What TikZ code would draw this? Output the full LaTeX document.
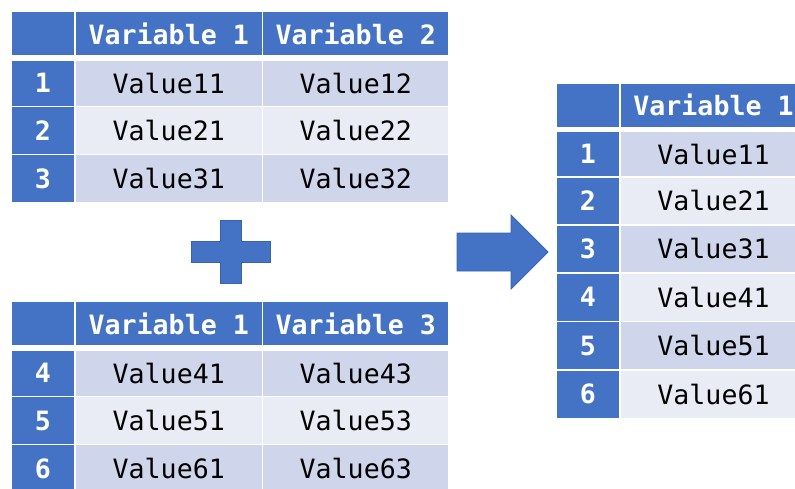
\documentclass[tikz,border=0pt]{standalone}
\usepackage{fontspec}
\setmonofont{DejaVu Sans Mono}
\definecolor{hdr}{HTML}{4472C4}
\definecolor{hdrline}{HTML}{3A63AE}
\definecolor{rowA}{HTML}{CFD5EA}
\definecolor{rowB}{HTML}{E9EBF5}
\tikzset{
  cell/.style={draw=white, line width=1.3pt, inner sep=0pt, text=black,
    font=\fontsize{26.6}{27}\selectfont\ttfamily},
  hcell/.style={cell, fill=hdr, text=white, font=\fontsize{26.6}{27}\selectfont\ttfamily\bfseries},
  acell/.style={cell, fill=rowA},
  bcell/.style={cell, fill=rowB},
  shapeblue/.style={fill=hdr, draw=hdrline, line width=0.8pt, line join=miter}
}
% \mkcell{style}{name}{x1}{y1}{x2}{y2}{text}
\newcommand{\mkcell}[7]{%
  \node[#1, minimum width={(#5)-(#3)}, minimum height={(#6)-(#4)}] (#2)
    at ({((#3)+(#5))/2},{((#4)+(#6))/2}) {#7};}
\begin{document}
\begin{tikzpicture}[x=1pt, y=-1pt]
\useasboundingbox (0,0) rectangle (795,488);
\clip (0,0) rectangle (795,488);
% ---------- Table 1 ----------
\mkcell{hcell}{aH0}{11}{11}{75}{56}{}
\mkcell{hcell}{aH1}{75}{11}{262.5}{56}{Variable 1}
\mkcell{hcell}{aH2}{262.5}{11}{449}{56}{Variable 2}
\mkcell{hcell}{aI1}{11}{60}{75}{106.5}{1}
\mkcell{acell}{aV11}{75}{60}{262.5}{106.5}{Value11}
\mkcell{acell}{aV12}{262.5}{60}{449}{106.5}{Value12}
\mkcell{hcell}{aI2}{11}{106.5}{75}{154.5}{2}
\mkcell{bcell}{aV21}{75}{106.5}{262.5}{154.5}{Value21}
\mkcell{bcell}{aV22}{262.5}{106.5}{449}{154.5}{Value22}
\mkcell{hcell}{aI3}{11}{154.5}{75}{203}{3}
\mkcell{acell}{aV31}{75}{154.5}{262.5}{203}{Value31}
\mkcell{acell}{aV32}{262.5}{154.5}{449}{203}{Value32}
% ---------- Table 2 ----------
\mkcell{hcell}{bH0}{11}{301}{75}{346}{}
\mkcell{hcell}{bH1}{75}{301}{262.5}{346}{Variable 1}
\mkcell{hcell}{bH2}{262.5}{301}{449}{346}{Variable 3}
\mkcell{hcell}{bI4}{11}{350}{75}{396.5}{4}
\mkcell{acell}{bV41}{75}{350}{262.5}{396.5}{Value41}
\mkcell{acell}{bV43}{262.5}{350}{449}{396.5}{Value43}
\mkcell{hcell}{bI5}{11}{396.5}{75}{444.5}{5}
\mkcell{bcell}{bV51}{75}{396.5}{262.5}{444.5}{Value51}
\mkcell{bcell}{bV53}{262.5}{396.5}{449}{444.5}{Value53}
\mkcell{hcell}{bI6}{11}{444.5}{75}{493}{6}
\mkcell{acell}{bV61}{75}{444.5}{262.5}{493}{Value61}
\mkcell{acell}{bV63}{262.5}{444.5}{449}{493}{Value63}
% ---------- Table 3 ----------
\mkcell{hcell}{cH0}{556}{83}{620}{127.5}{}
\mkcell{hcell}{cH1}{620}{83}{807}{127.5}{Variable 1}
\mkcell{hcell}{cI1}{556}{131.5}{620}{177}{1}
\mkcell{acell}{cV1}{620}{131.5}{807}{177}{Value11}
\mkcell{hcell}{cI2}{556}{177}{620}{225}{2}
\mkcell{bcell}{cV2}{620}{177}{807}{225}{Value21}
\mkcell{hcell}{cI3}{556}{225}{620}{273}{3}
\mkcell{acell}{cV3}{620}{225}{807}{273}{Value31}
\mkcell{hcell}{cI4}{556}{273}{620}{321.5}{4}
\mkcell{bcell}{cV4}{620}{273}{807}{321.5}{Value41}
\mkcell{hcell}{cI5}{556}{321.5}{620}{370}{5}
\mkcell{acell}{cV5}{620}{321.5}{807}{370}{Value51}
\mkcell{hcell}{cI6}{556}{370}{620}{418.5}{6}
\mkcell{bcell}{cV6}{620}{370}{807}{418.5}{Value61}
% ---------- Plus sign ----------
\draw[shapeblue] (220,220) -- (241,220) -- (241,241.5) -- (270,241.5) -- (270,262.5)
  -- (241,262.5) -- (241,283.5) -- (220,283.5) -- (220,262.5) -- (191,262.5)
  -- (191,241.5) -- (220,241.5) -- cycle;
% ---------- Arrow ----------
\draw[shapeblue] (457,233) -- (511,233) -- (511,215) -- (548,252) -- (511,289)
  -- (511,271) -- (457,271) -- cycle;
\end{tikzpicture}
\end{document}
